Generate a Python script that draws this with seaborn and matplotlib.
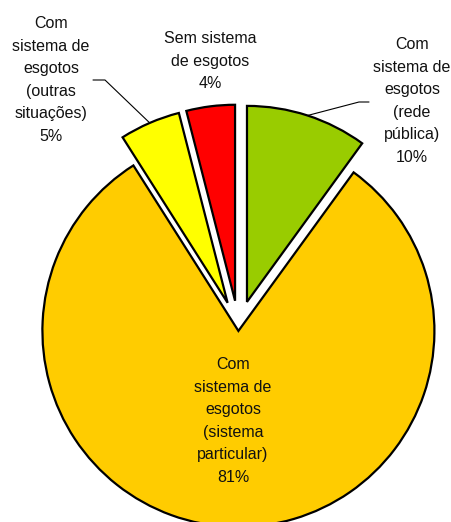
import numpy as np
import seaborn as sns
import matplotlib.pyplot as plt

sns.set_style("white")
plt.rcParams['font.family'] = ['Liberation Sans', 'DejaVu Sans']

# data (clockwise from the top)
labels = ['Com\nsistema de\nesgotos\n(rede\npública)',
          'Com\nsistema de\nesgotos\n(sistema\nparticular)',
          'Com\nsistema de\nesgotos\n(outras\nsituações)',
          'Sem sistema\nde esgotos']
shares = [10, 81, 5, 4]
colors = ['#99CC00', '#FFCC00', '#FFFF00', '#FF0000']
explode = [0.14, 0.015, 0.14, 0.14]

W, H = 452, 522
cx, cy, R = 238.5, 328, 196.0  # pie centre / radius in pixels


def px(x, y):
    return (x - cx) / R, (cy - y) / R


fig = plt.figure(figsize=(W / 100, H / 100), dpi=100)
ax = fig.add_axes([0, 0, 1, 1])
wedges, _ = ax.pie(shares, colors=colors, explode=explode, startangle=90,
                   counterclock=False,
                   wedgeprops=dict(edgecolor='black', linewidth=1.6, joinstyle='miter'))
ax.set_xlim(px(0, 0)[0], px(W, 0)[0])
ax.set_ylim(px(0, H)[1], px(0, 0)[1])
ax.set_aspect('auto')
ax.axis('off')

# label positions (pixels): text centre, and leader line elbow/end
text_pos = [(412, 101), (233, 421), (51, 80), (210.5, 61)]
leaders = {0: [(359, 102), (369, 102)], 2: [(105, 80), (93, 80)]}

for i, (w, lab, pct) in enumerate(zip(wedges, labels, shares)):
    tx, ty = px(*text_pos[i])
    ax.text(tx, ty, f'{lab}\n{pct}%', ha='center', va='center',
            multialignment='center', fontsize=11.5, linespacing=1.62,
            color='#111111')
    if i in leaders:
        ang = np.deg2rad((w.theta1 + w.theta2) / 2)
        x0 = w.center[0] + w.r * np.cos(ang)
        y0 = w.center[1] + w.r * np.sin(ang)
        pts = [(x0, y0)] + [px(*p) for p in leaders[i]]
        ax.plot([p[0] for p in pts], [p[1] for p in pts], color='black', lw=0.8)

fig.savefig('out.png', dpi=100)
